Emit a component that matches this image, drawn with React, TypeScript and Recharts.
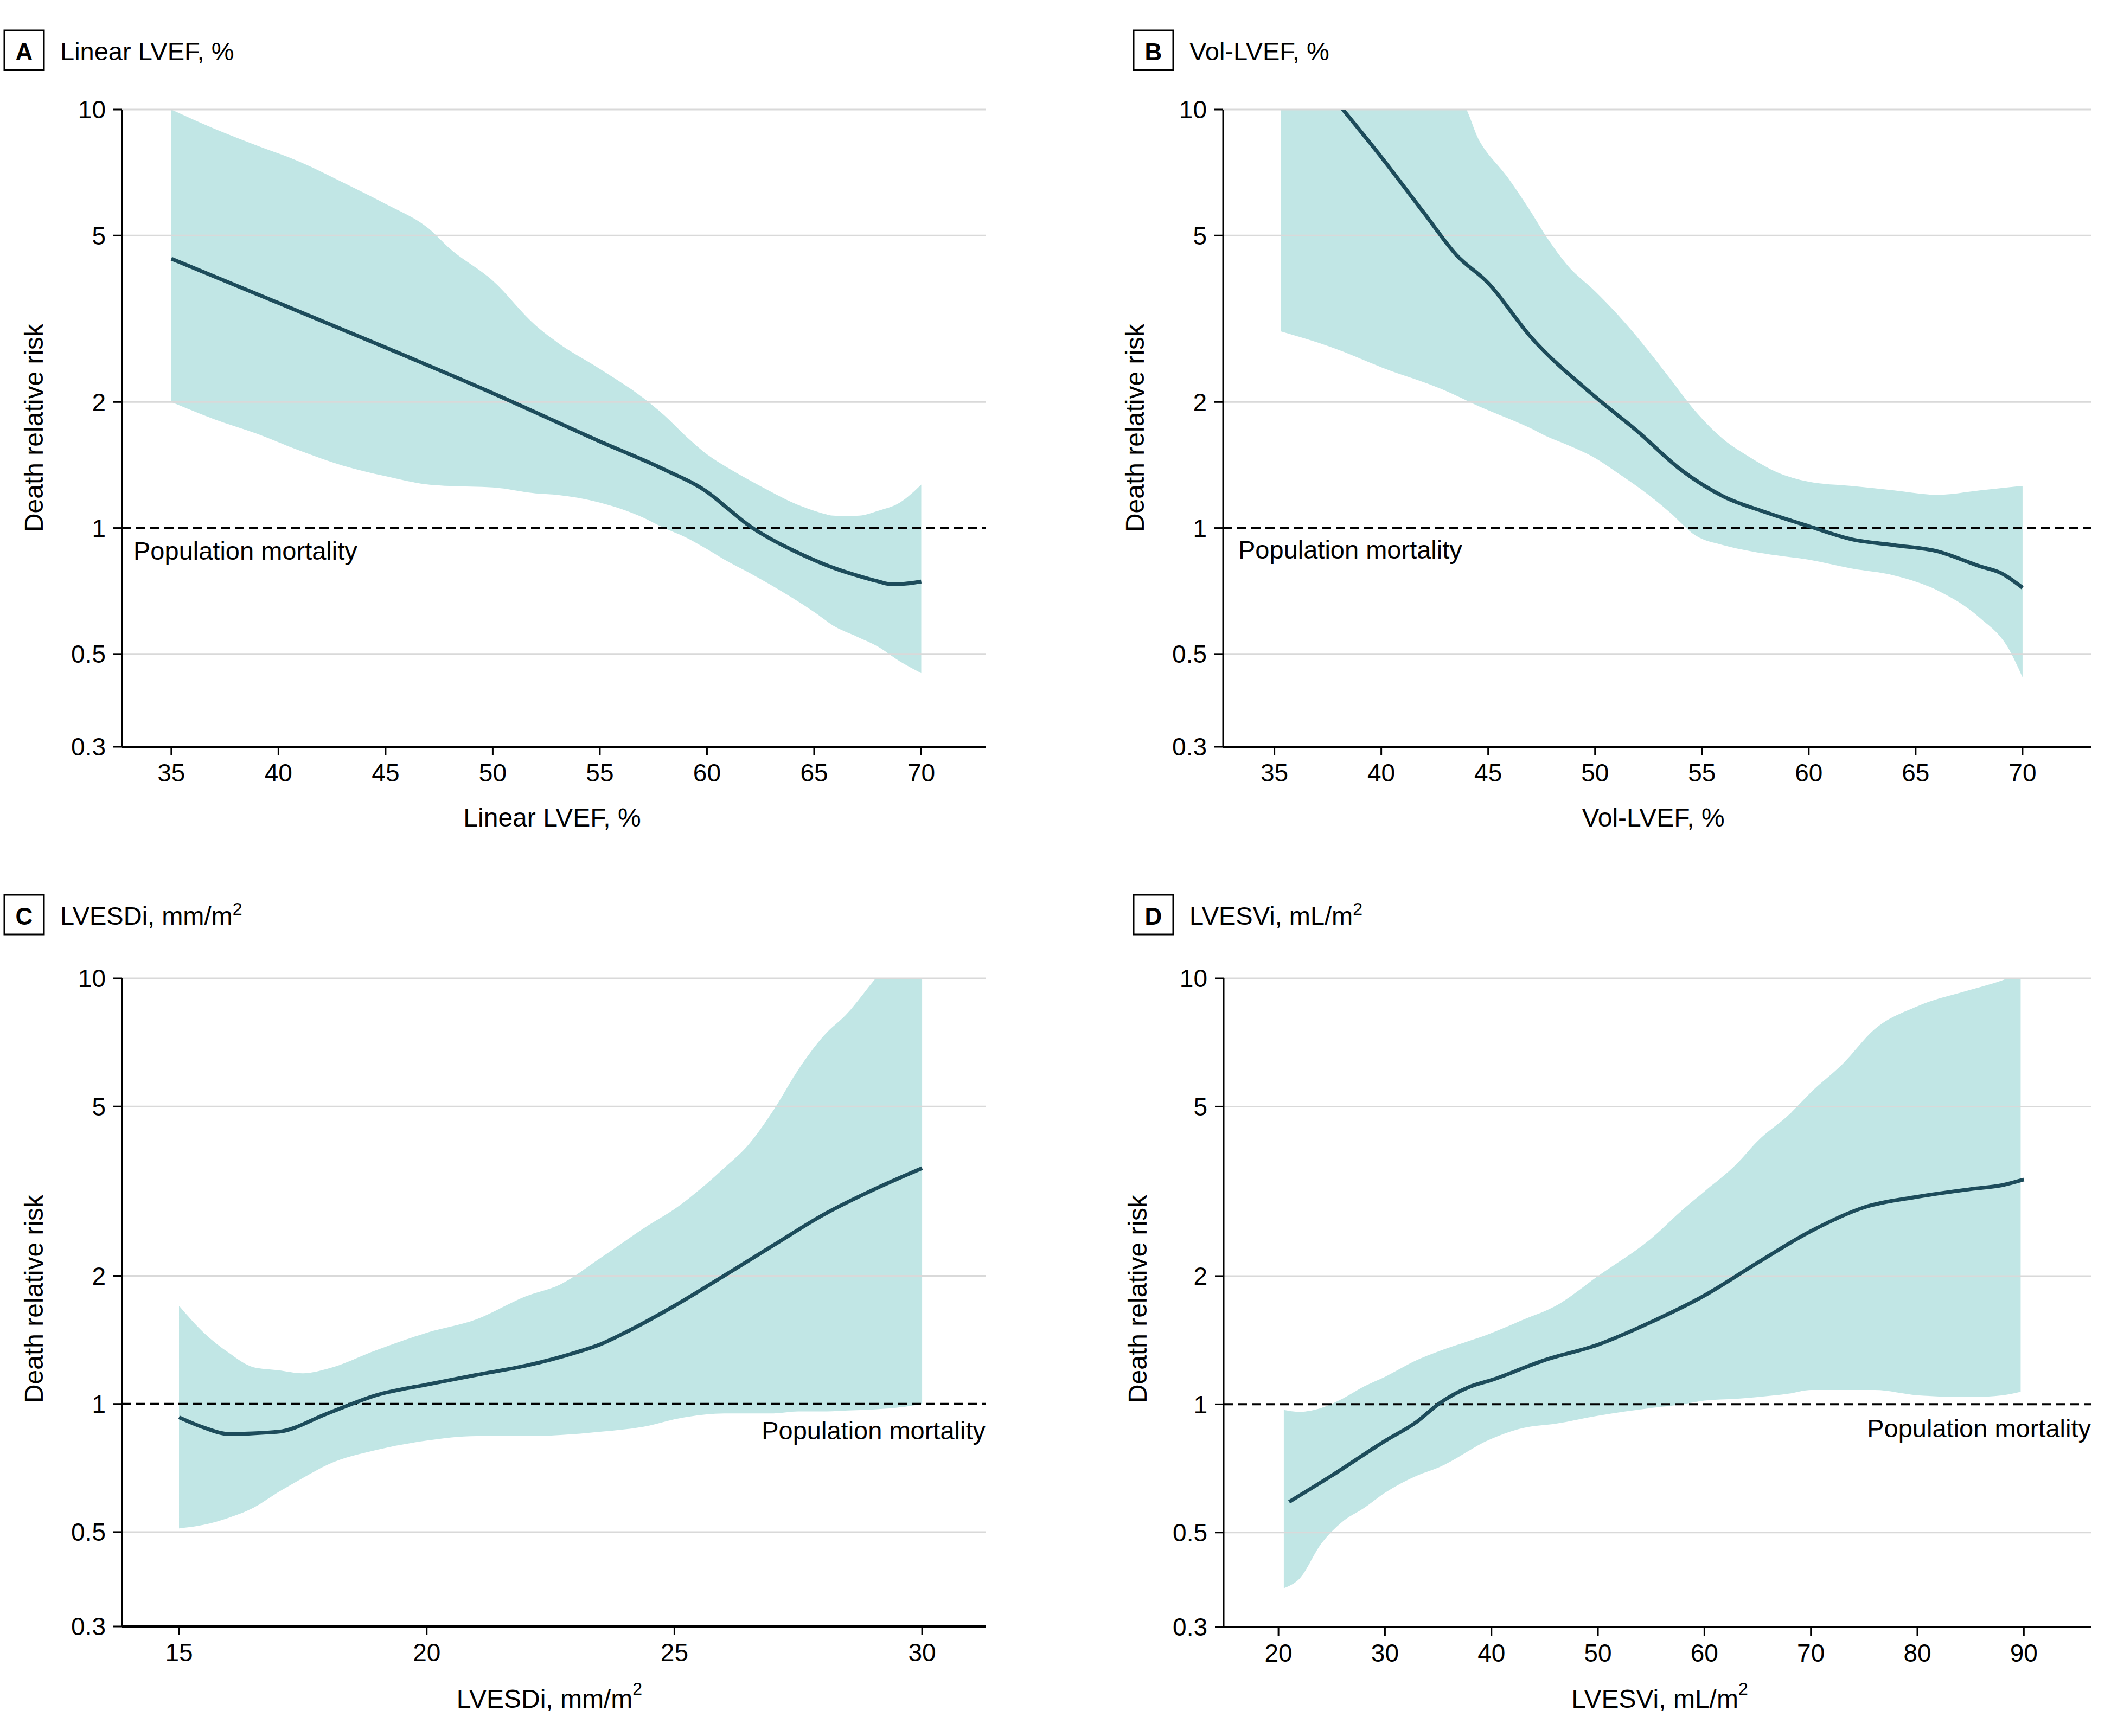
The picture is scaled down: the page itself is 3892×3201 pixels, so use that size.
import React from 'react';
import { ComposedChart, Area, Line, XAxis, YAxis, ReferenceLine } from 'recharts';

const FONT = '"Liberation Sans", Arial, "DejaVu Sans", sans-serif';
const BAND = '#c1e6e5';
const LINE = '#1d4c5b';
const GRID = '#d9d9d9';

// Shared y axis (log scale, relative risk)
const yTicks = [0.3, 0.5, 1, 2, 5, 10];
const gridValues = [0.5, 2, 5, 10];
const popMortality = 1;

// Panel A: Linear LVEF, %
const aTicks = [35, 40, 45, 50, 55, 60, 65, 70];
const aLineX = [35, 40, 45, 50, 55, 58, 60, 61, 62, 63, 64, 66, 67, 68, 68.5, 69, 70];
const aLineRisk = [4.4, 3.45, 2.7, 2.1, 1.61, 1.38, 1.22, 1.11, 1.01, 0.94, 0.885, 0.8, 0.77, 0.745, 0.735, 0.735, 0.745];
const aBandX = [35, 37, 39, 41, 43, 45, 47, 48, 50, 52, 53, 55, 57, 58, 59, 60, 61, 62, 63, 64, 65, 66, 67, 68, 69, 70];
const aBandHigh = [10, 9.0, 8.2, 7.5, 6.7, 5.95, 5.2, 4.65, 3.9, 3.05, 2.78, 2.4, 2.05, 1.86, 1.66, 1.5, 1.39, 1.3, 1.22, 1.15, 1.1, 1.07, 1.07, 1.1, 1.15, 1.27];
const aBandLow = [2.0, 1.82, 1.68, 1.53, 1.41, 1.33, 1.27, 1.26, 1.25, 1.21, 1.2, 1.15, 1.06, 1.0, 0.95, 0.89, 0.83, 0.78, 0.73, 0.68, 0.63, 0.58, 0.55, 0.52, 0.48, 0.45];

// Panel B: Vol-LVEF, %
const bTicks = [35, 40, 45, 50, 55, 60, 65, 70];
const bLineX = [38, 40, 42, 43.5, 45, 47, 50, 52, 54, 56, 58, 60, 62, 64, 66, 68, 69, 70];
const bLineRisk = [10.3, 7.7, 5.66, 4.5, 3.85, 2.86, 2.06, 1.7, 1.38, 1.19, 1.09, 1.01, 0.94, 0.91, 0.88, 0.81, 0.78, 0.72];
const bBandX = [35.3, 37.7, 40.2, 42.8, 43.7, 44.6, 45.9, 46.9, 47.8, 48.7, 50, 51, 52.5, 53.5, 54.7, 56, 57.3, 58.5, 60, 62, 64, 66, 68, 69.3, 70];
const bBandHigh = [10.4, 10.4, 10.4, 10.4, 10.4, 8.4, 6.9, 5.8, 4.9, 4.25, 3.68, 3.26, 2.65, 2.28, 1.9, 1.63, 1.47, 1.36, 1.29, 1.26, 1.23, 1.2, 1.23, 1.25, 1.26];
const bBandLow = [2.95, 2.7, 2.4, 2.15, 2.05, 1.95, 1.83, 1.74, 1.65, 1.58, 1.47, 1.36, 1.2, 1.09, 0.96, 0.91, 0.88, 0.86, 0.84, 0.8, 0.77, 0.71, 0.61, 0.52, 0.44];

// Panel C: LVESDi, mm/m2
const cTicks = [15, 20, 25, 30];
const cLineX = [15, 15.5, 16, 17, 18, 19, 20, 21, 22, 23, 23.5, 24, 25, 26, 27, 28, 29, 30];
const cLineRisk = [0.93, 0.88, 0.85, 0.86, 0.95, 1.05, 1.11, 1.17, 1.23, 1.32, 1.38, 1.47, 1.7, 2.0, 2.36, 2.78, 3.18, 3.58];
const cBandX = [15, 15.5, 16, 16.5, 17, 17.5, 18, 19, 20, 21, 22, 22.7, 23.5, 24.5, 25, 26, 26.5, 27, 27.5, 28, 28.5, 29, 29.5, 30];
const cBandHigh = [1.7, 1.47, 1.32, 1.22, 1.2, 1.18, 1.21, 1.34, 1.47, 1.58, 1.79, 1.91, 2.2, 2.64, 2.87, 3.58, 4.07, 4.9, 6.1, 7.3, 8.3, 9.8, 11.5, 13];
const cBandLow = [0.51, 0.52, 0.54, 0.57, 0.62, 0.67, 0.72, 0.78, 0.82, 0.84, 0.84, 0.845, 0.86, 0.89, 0.92, 0.95, 0.95, 0.95, 0.96, 0.96, 0.965, 0.97, 0.98, 1.0];

// Panel D: LVESVi, mL/m2
const dTicks = [20, 30, 40, 50, 60, 70, 80, 90];
const dLineX = [21, 25, 30, 33, 35, 38, 40, 45, 50, 55, 60, 65, 70, 75, 80, 85, 88, 90];
const dLineRisk = [0.59, 0.68, 0.82, 0.91, 1.0, 1.1, 1.14, 1.27, 1.38, 1.56, 1.8, 2.15, 2.55, 2.9, 3.07, 3.2, 3.27, 3.37];
const dBandX = [20.5, 22, 24, 26, 28, 30, 33, 35, 40, 43, 46, 50, 55, 58, 60, 63, 65, 68, 70, 73, 76, 80, 85, 88, 89.7];
const dBandHigh = [0.97, 0.96, 0.98, 1.03, 1.1, 1.16, 1.27, 1.33, 1.47, 1.58, 1.7, 2.0, 2.45, 2.87, 3.16, 3.66, 4.15, 4.8, 5.4, 6.3, 7.6, 8.6, 9.4, 9.9, 10.3];
const dBandLow = [0.37, 0.39, 0.47, 0.53, 0.57, 0.62, 0.68, 0.71, 0.83, 0.88, 0.9, 0.94, 0.98, 1.0, 1.02, 1.03, 1.04, 1.06, 1.08, 1.08, 1.08, 1.05, 1.04, 1.05, 1.07];

const toLine = (xs: number[], ys: number[]) => xs.map((x, i) => ({ x, y: ys[i] }));
const toBand = (xs: number[], lo: number[], hi: number[]) => xs.map((x, i) => ({ x, range: [lo[i], hi[i]] }));

function PopLabel(props: any) {
  const { viewBox, align, dx, dy } = props;
  const vb = viewBox || { x: 0, y: 0, width: 0, height: 0 };
  const x = align === 'left' ? vb.x + dx : vb.x + vb.width - dx;
  return (
    <text x={x} y={vb.y + dy} textAnchor={align === 'left' ? 'start' : 'end'} dominantBaseline="central"
      fontSize={47} fontFamily={FONT} fill="#000">Population mortality</text>
  );
}

type PanelProps = {
  rect: { left: number; top: number; right: number; bottom: number };
  domain: [number, number];
  ticks: number[];
  line: { x: number; y: number }[];
  band: { x: number; range: number[] }[];
  labelAlign: 'left' | 'right';
  labelDx: number;
  labelDy: number;
};

function Panel({ rect, domain, ticks, line, band, labelAlign, labelDx, labelDy }: PanelProps) {
  const yW = 220, mT = 30, mR = 30, xH = 130;
  const cl = rect.left - yW;
  const ct = rect.top - mT;
  const w = rect.right - cl + mR;
  const h = rect.bottom - ct + xH;
  return (
    <div style={{ position: 'absolute', left: cl, top: ct, width: w, height: h }}>
      <ComposedChart width={w} height={h} margin={{ top: mT, right: mR, left: 0, bottom: 0 }}>
        <XAxis dataKey="x" type="number" domain={domain} ticks={ticks} interval={0} allowDataOverflow
          height={xH} tickSize={16} tickMargin={15}
          axisLine={{ stroke: '#000', strokeWidth: 4 }} tickLine={{ stroke: '#000', strokeWidth: 3 }}
          tick={{ fontSize: 46, fill: '#000', fontFamily: FONT }} />
        <YAxis type="number" scale="log" domain={[0.3, 10]} ticks={yTicks} interval={0} allowDataOverflow
          width={yW} tickSize={16} tickMargin={14}
          tickFormatter={(v: number) => String(v)}
          axisLine={{ stroke: '#000', strokeWidth: 3 }} tickLine={{ stroke: '#000', strokeWidth: 3 }}
          tick={{ fontSize: 46, fill: '#000', fontFamily: FONT }} />
        {gridValues.map((v) => (
          <ReferenceLine key={v} y={v} stroke={GRID} strokeWidth={3} />
        ))}
        <Area data={band} dataKey="range" type="monotone" fill={BAND} fillOpacity={1} stroke="none"
          isAnimationActive={false} />
        <ReferenceLine y={popMortality} stroke="#000" strokeWidth={4} strokeDasharray="17 9"
          label={<PopLabel align={labelAlign} dx={labelDx} dy={labelDy} />} />
        <Line data={line} dataKey="y" type="monotone" stroke={LINE} strokeWidth={7} dot={false}
          activeDot={false} isAnimationActive={false} />
      </ComposedChart>
    </div>
  );
}

function Title({ x, y, letter, text, sup }: { x: number; y: number; letter: string; text: string; sup?: boolean }) {
  return (
    <g>
      <rect x={x} y={y} width={73} height={73} fill="none" stroke="#000" strokeWidth={3} />
      <text x={x + 36.5} y={y + 55} textAnchor="middle" fontSize={44} fontWeight="bold" fontFamily={FONT} fill="#000">{letter}</text>
      <text x={x + 103} y={y + 55} fontSize={47} fontFamily={FONT} fill="#000">
        {text}{sup ? <tspan dy={-18} fontSize={32}>2</tspan> : null}
      </text>
    </g>
  );
}

function AxisTitle({ x, y, text, sup, rotate }: { x: number; y: number; text: string; sup?: boolean; rotate?: boolean }) {
  return (
    <text x={x} y={y} textAnchor="middle" dominantBaseline="central" fontSize={48} fontFamily={FONT} fill="#000"
      transform={rotate ? `rotate(-90 ${x} ${y})` : undefined}>
      {text}{sup ? <tspan dy={-18} fontSize={32}>2</tspan> : null}
    </text>
  );
}

export default function App() {
  return (
    <div style={{ position: 'absolute', left: 0, top: 0, width: 3892, height: 3201, background: '#fff', overflow: 'hidden' }}>
      <Panel rect={{ left: 225, top: 202, right: 1817, bottom: 1377 }} domain={[32.7, 73]} ticks={aTicks}
        line={toLine(aLineX, aLineRisk)} band={toBand(aBandX, aBandLow, aBandHigh)}
        labelAlign="left" labelDx={21} labelDy={42} />
      <Panel rect={{ left: 2255, top: 202, right: 3855, bottom: 1377 }} domain={[32.6, 73.2]} ticks={bTicks}
        line={toLine(bLineX, bLineRisk)} band={toBand(bBandX, bBandLow, bBandHigh)}
        labelAlign="left" labelDx={28} labelDy={40} />
      <Panel rect={{ left: 225, top: 1804, right: 1817, bottom: 2999 }} domain={[13.85, 31.28]} ticks={cTicks}
        line={toLine(cLineX, cLineRisk)} band={toBand(cBandX, cBandLow, cBandHigh)}
        labelAlign="right" labelDx={0} labelDy={49} />
      <Panel rect={{ left: 2256, top: 1804, right: 3855, bottom: 3000 }} domain={[14.85, 96.3]} ticks={dTicks}
        line={toLine(dLineX, dLineRisk)} band={toBand(dBandX, dBandLow, dBandHigh)}
        labelAlign="right" labelDx={0} labelDy={44} />
      <svg width={3892} height={3201} style={{ position: 'absolute', left: 0, top: 0, pointerEvents: 'none' }}>
        <Title x={8} y={56} letter="A" text="Linear LVEF, %" />
        <Title x={2090} y={56} letter="B" text="Vol-LVEF, %" />
        <Title x={8} y={1650} letter="C" text="LVESDi, mm/m" sup />
        <Title x={2090} y={1650} letter="D" text="LVESVi, mL/m" sup />
        <AxisTitle x={62} y={789} text="Death relative risk" rotate />
        <AxisTitle x={2092} y={789} text="Death relative risk" rotate />
        <AxisTitle x={62} y={2395} text="Death relative risk" rotate />
        <AxisTitle x={2097} y={2395} text="Death relative risk" rotate />
        <AxisTitle x={1018} y={1507} text="Linear LVEF, %" />
        <AxisTitle x={3048} y={1507} text="Vol-LVEF, %" />
        <AxisTitle x={1013} y={3132} text="LVESDi, mm/m" sup />
        <AxisTitle x={3060} y={3132} text="LVESVi, mL/m" sup />
      </svg>
    </div>
  );
}
